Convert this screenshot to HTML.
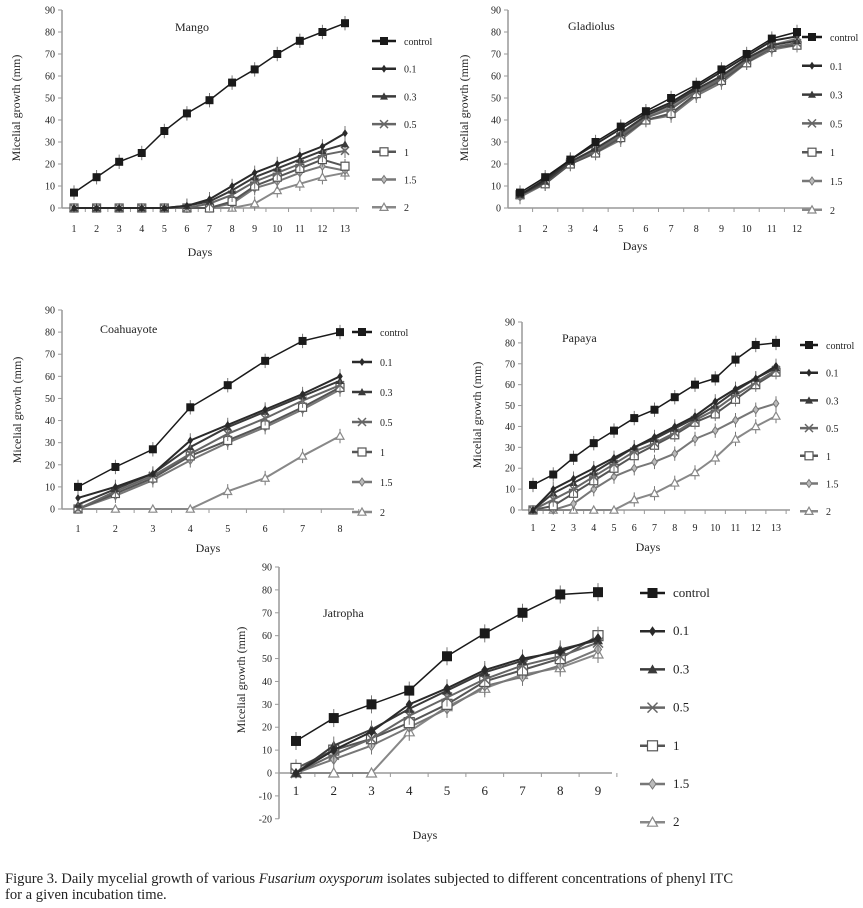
<!DOCTYPE html>
<html><head><meta charset="utf-8"><style>
body{margin:0;background:#fff;width:863px;height:908px;overflow:hidden;font-family:"Liberation Serif",serif}
svg{position:absolute;left:0;top:0}
.cap{position:absolute;left:5px;top:871px;font-size:14.6px;line-height:16px;color:#222;font-family:"Liberation Serif",serif;white-space:nowrap}
</style></head><body>
<svg id="fig" width="863" height="908"></svg>
<div class="cap">Figure 3. Daily mycelial growth of various <i>Fusarium oxysporum</i> isolates subjected to different concentrations of phenyl ITC<br>for a given incubation time.</div>
<script>
const seriesNames = ["control","0.1","0.3","0.5","1","1.5","2"];
const mangoValues = [
 [7,14,21,25,35,43,49,57,63,70,76,80,84],
 [0,0,0,0,0,1,4,10,16,20,24,28,34],
 [0,0,0,0,0,1,3,8,14,18,22,26,29],
 [0,0,0,0,0,0,2,6,12,16,20,24,26],
 [0,0,0,0,0,0,0,3,10,14,18,22,19],
 [0,0,0,0,0,0,0,2,9,12,16,19,17],
 [0,0,0,0,0,0,0,0,2,8,11,14,16]];
const gladiolusValues = [
 [7,14,22,30,37,44,50,56,63,70,77,80],
 [6,13,22,29,36,43,48,55,62,69,76,78],
 [6,12,21,27,34,42,47,54,60,68,74,76],
 [6,12,21,26,33,41,45,53,59,67,73,75],
 [6,11,20,25,32,40,43,52,58,66,73,74],
 [5,11,20,25,31,40,42,51,57,66,72,74],
 [6,12,21,26,33,41,46,53,59,67,74,77]];
const coahuayoteValues = [
 [10,19,27,46,56,67,76,80],
 [5,10,16,31,38,45,52,60],
 [2,9,16,28,37,44,51,58],
 [0,8,15,25,34,41,49,56],
 [0,7,14,24,31,38,46,55],
 [0,6,13,22,30,37,45,54],
 [0,0,0,0,8,14,24,33]];
const papayaValues = [
 [12,17,25,32,38,44,48,54,60,63,72,79,80],
 [0,10,15,20,25,30,35,40,45,52,58,63,69],
 [0,8,13,18,24,30,34,39,44,50,57,63,68],
 [0,5,10,16,22,28,32,37,43,48,55,61,67],
 [0,2,8,14,20,26,31,36,42,46,53,60,66],
 [0,0,3,10,16,20,23,27,34,38,43,48,51],
 [0,0,0,0,0,5,8,13,18,25,34,40,45]];
const jatrophaValues = [
 [14,24,30,36,51,61,70,78,79],
 [0,10,18,30,37,45,50,53,59],
 [0,12,19,28,36,44,49,54,58],
 [0,8,15,25,33,41,47,51,57],
 [2,10,15,22,30,40,45,50,60],
 [0,6,12,20,28,38,42,47,54],
 [0,0,0,18,29,37,43,46,52]];
const colors=["#1a1a1a","#2a2a2a","#3a3a3a","#666","#555","#777","#888"];
const NS="http://www.w3.org/2000/svg";
const fig=document.getElementById('fig');
function el(tag,attrs,parent,txt){const e=document.createElementNS(NS,tag);for(const k in attrs)e.setAttribute(k,attrs[k]);if(txt!==undefined)e.textContent=txt;(parent||fig).appendChild(e);return e;}
function marker(g,k,x,y,s,c){
 if(k===0)el('rect',{x:x-s,y:y-s,width:2*s,height:2*s,fill:c},g);
 else if(k===1)el('polygon',{points:`${x},${y-s} ${x+s*0.7},${y} ${x},${y+s} ${x-s*0.7},${y}`,fill:c},g);
 else if(k===2)el('polygon',{points:`${x},${y-s} ${x+s},${y+s*0.8} ${x-s},${y+s*0.8}`,fill:c},g);
 else if(k===3){el('path',{d:`M${x-s} ${y-s}L${x+s} ${y+s}M${x-s} ${y+s}L${x+s} ${y-s}`,stroke:c,'stroke-width':1.5},g);}
 else if(k===4)el('rect',{x:x-s,y:y-s,width:2*s,height:2*s,fill:'#fff',stroke:c,'stroke-width':1.2},g);
 else if(k===5)el('polygon',{points:`${x},${y-s} ${x+s*0.7},${y} ${x},${y+s} ${x-s*0.7},${y}`,fill:'#bbb',stroke:c},g);
 else el('polygon',{points:`${x},${y-s} ${x+s},${y+s*0.8} ${x-s},${y+s*0.8}`,fill:'#fff',stroke:c,'stroke-width':1.2},g);
}
function chart(o,values){
 const g=el('g',{},fig);
 
 
 const n=values[0].length;
 const yS=v=>o.zeroY-(v)*(o.zeroY-o.topY)/o.ymax;
 const xS=d=>o.d1+(d-1)*(o.dn-o.d1)/(n-1);
 el('line',{x1:o.ax,y1:yS(o.ymax),x2:o.ax,y2:yS(o.ymin),stroke:'#999','stroke-width':1.5},g);
 el('line',{x1:o.ax,y1:o.zeroY,x2:o.dn+14,y2:o.zeroY,stroke:'#999','stroke-width':1.5},g);
 for(let v=o.ymin;v<=o.ymax;v+=10){
  el('line',{x1:o.ax-4,y1:yS(v),x2:o.ax,y2:yS(v),stroke:'#999'},g);
  const t=el('text',{x:o.ax-7,y:yS(v)+3.5,'font-size':o.fs,'text-anchor':'end',fill:'#222'},g,String(v));
  
  
 }
 const hw=(o.dn-o.d1)/(n-1)/2;
 for(let d=1;d<=n;d++){
  el('line',{x1:xS(d)+hw,y1:o.zeroY,x2:xS(d)+hw,y2:o.zeroY+4,stroke:'#999'},g);
  const t=el('text',{x:xS(d),y:o.dayY,'font-size':o.dfs||o.fs,'text-anchor':'middle',fill:'#222'},g,String(d));
  
  
 }
 const tt=el('text',{x:o.tx,y:o.ty,'font-size':o.tfs||o.fs+2,fill:'#222'},g,o.title);
 
 
 const yl=el('text',{x:0,y:0,'font-size':o.yfs||o.fs+2,'text-anchor':'middle',fill:'#222',transform:`translate(${o.ylx},${o.yly}) rotate(-90)`},g,'Micelial growth (mm)');
 
 
 const xl=el('text',{x:o.xlx,y:o.xly,'font-size':o.yfs||o.fs+2,'text-anchor':'middle',fill:'#222'},g,'Days');
 
 
 for(let s=values.length-1;s>=0;s--){
  const pts=values[s].map((v,i)=>`${xS(i+1)},${yS(v)}`).join(' ');
  const pl=el('polyline',{points:pts,fill:'none',stroke:colors[s],'stroke-width':s===0?1.5:2},g);
  
  
  values[s].forEach((v,i)=>{
   if(v>0)el('line',{x1:xS(i+1),y1:yS(v)-o.ms*1.8,x2:xS(i+1),y2:yS(v)+o.ms*1.8,stroke:'#777'},g);
   marker(g,s,xS(i+1),yS(v),o.ms,colors[s]);
  });
 }
 seriesNames.forEach((nm,s)=>{
  const y=o.ly0+s*o.ldy;
  const lg=el('g',{},g);
  
  
  el('line',{x1:o.lx,y1:y,x2:o.lx+o.lw,y2:y,stroke:colors[s],'stroke-width':2.5},lg);
  marker(lg,s,o.lx+o.lw/2,y,o.ms,colors[s]);
  el('text',{x:o.lx+o.lw+8,y:y+4,'font-size':o.lfs,fill:'#222'},lg,nm);
 });
}
chart({name:'mango',title:'Mango',ax:62,zeroY:208,topY:10,ymin:0,ymax:90,d1:74,dn:345,dayY:232,fs:10,ms:4,tx:175,ty:31,ylx:20,yly:108,xlx:200,xly:256,lx:372,lw:24,ly0:41,ldy:27.7,lfs:10},mangoValues);
chart({name:'gladiolus',title:'Gladiolus',ax:508,zeroY:208,topY:10,ymin:0,ymax:90,d1:520,dn:797,dayY:232,fs:10,ms:4,tx:568,ty:30,ylx:468,yly:108,xlx:635,xly:250,lx:802,lw:20,ly0:37,ldy:28.8,lfs:10},gladiolusValues);
chart({name:'coahuayote',title:'Coahuayote',ax:62,zeroY:509,topY:310,ymin:0,ymax:90,d1:78,dn:340,dayY:532,fs:10,ms:4,tx:100,ty:333,ylx:21,yly:410,xlx:208,xly:552,lx:352,lw:20,ly0:332,ldy:30,lfs:10},coahuayoteValues);
chart({name:'papaya',title:'Papaya',ax:522,zeroY:510,topY:322,ymin:0,ymax:90,d1:533,dn:776,dayY:531,fs:10,ms:4,tx:562,ty:342,ylx:481,yly:415,xlx:648,xly:551,lx:800,lw:18,ly0:345,ldy:27.7,lfs:10},papayaValues);
chart({name:'jatropha',title:'Jatropha',ax:279,zeroY:773,topY:567,ymin:-20,ymax:90,d1:296,dn:598,dayY:795,fs:10,dfs:13,tfs:12,yfs:12,ms:5,tx:323,ty:617,ylx:245,yly:680,xlx:425,xly:839,lx:640,lw:25,ly0:593,ldy:38.2,lfs:13},jatrophaValues);
</script>
</body></html>
